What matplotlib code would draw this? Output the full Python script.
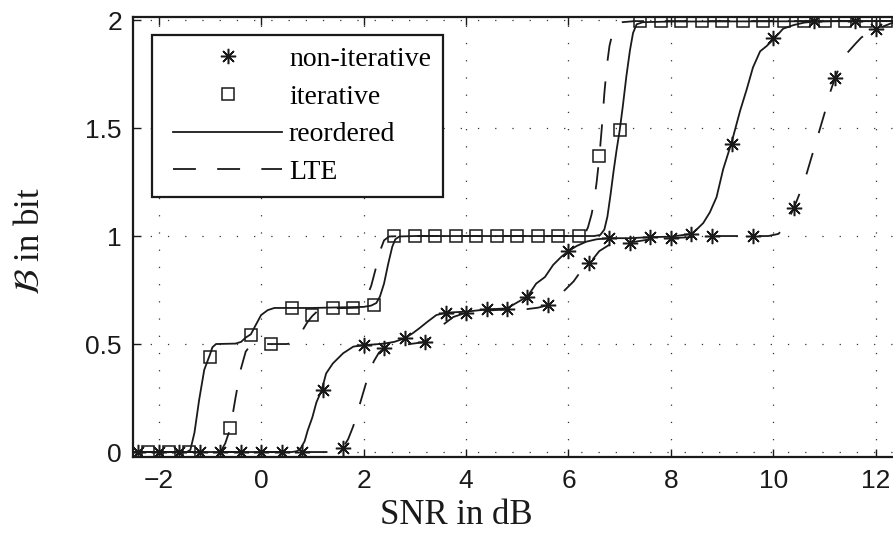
import matplotlib
matplotlib.use("Agg")
import matplotlib.pyplot as plt
from matplotlib.lines import Line2D
from matplotlib.legend_handler import HandlerLine2D

plt.rcParams['lines.scale_dashes'] = False
plt.rcParams['mathtext.fontset'] = 'stix'
plt.rcParams['font.family'] = ['Liberation Sans', 'DejaVu Sans']

# ---------------- data ----------------
# iterative, reordered (solid line, squares)
it_re_x = [-2.5, -1.45, -1.38, -1.3, -1.21, -1.11, -1.0, -0.95, -0.88, -0.5, -0.39, -0.3, -0.2,
           -0.1, 0.0, 0.13, 0.26, 1.0, 2.0, 2.15, 2.25, 2.32, 2.4, 2.48, 2.56, 2.62, 2.7, 3.0,
           6.5, 6.62, 6.7, 6.76, 6.82, 6.88, 6.94, 7.0, 7.06, 7.13, 7.2, 7.26, 7.33, 7.45, 8.0, 12.5]
it_re_y = [0.0, 0.0, 0.01, 0.09, 0.24, 0.38, 0.45, 0.485, 0.5, 0.502, 0.51, 0.53, 0.545,
           0.59, 0.634, 0.657, 0.667, 0.667, 0.672, 0.678, 0.69, 0.72, 0.78, 0.87, 0.95, 0.985, 0.998, 1.0,
           1.0, 1.005, 1.03, 1.09, 1.19, 1.3, 1.4, 1.49, 1.6, 1.74, 1.86, 1.94, 1.98, 1.99, 1.993, 1.995]
it_re_mx = [-1.8, -1.0, -0.2, 0.6, 1.4, 2.2, 3.0, 3.8, 4.6, 5.4, 6.2, 7.0, 7.8, 8.6, 9.4, 10.2, 11.0, 11.8]
it_re_my = [0.0, 0.44, 0.54, 0.667, 0.668, 0.68, 1.0, 1.0, 1.0, 1.0, 1.0, 1.49, 1.995, 1.995, 1.995,
            1.995, 1.995, 1.995]

# iterative, LTE (dashed line, squares)
it_lte_x = [-2.5, -0.85, -0.77, -0.7, -0.6, -0.5, -0.4, -0.3, -0.22, -0.15, 0.0, 0.5, 0.62, 0.7,
            0.8, 0.9, 1.0, 1.1, 1.3, 1.9, 1.97, 2.05, 2.15, 2.25, 2.32, 2.4, 2.5, 2.8, 6.2, 6.3,
            6.38, 6.45, 6.5, 6.55, 6.6, 6.65, 6.7, 6.75, 6.8, 6.86, 6.93, 7.05, 7.3, 12.5]
it_lte_y = [0.0, 0.0, 0.01, 0.04, 0.11, 0.25, 0.38, 0.465, 0.49, 0.497, 0.5, 0.5, 0.505, 0.52,
            0.56, 0.6, 0.63, 0.652, 0.665, 0.668, 0.68, 0.71, 0.77, 0.86, 0.93, 0.98, 0.998, 1.0, 1.0, 1.0,
            1.04, 1.1, 1.16, 1.25, 1.36, 1.5, 1.66, 1.79, 1.88, 1.94, 1.975, 1.99, 1.995, 1.995]
it_lte_mx = [-2.2, -1.4, -0.6, 0.2, 1.0, 1.8, 2.6, 3.4, 4.2, 5.0, 5.8, 6.6, 7.4, 8.2, 9.0, 9.8,
             10.6, 11.4, 12.2]
it_lte_my = [0.0, 0.0, 0.11, 0.5, 0.634, 0.668, 1.0, 1.0, 1.0, 1.0, 1.0, 1.37, 1.995, 1.995, 1.995,
             1.995, 1.995, 1.995, 1.995]

# non-iterative, reordered (solid line, stars)
ni_re_x = [-2.5, 0.6, 0.7, 0.78, 0.85, 0.91, 1.0, 1.08, 1.18, 1.27, 1.4, 1.6, 1.8, 2.0, 2.2, 2.4,
           2.6, 2.8, 2.96, 3.1, 3.23, 3.42, 3.6, 4.0, 4.4, 4.8, 4.98, 5.2, 5.37, 5.54, 5.7, 5.86, 6.0,
           6.16, 6.35, 6.55, 6.8, 7.2, 7.6, 8.0, 8.4, 8.5, 8.63, 8.76, 8.89, 9.02, 9.18, 9.35, 9.48,
           9.6, 9.74, 9.87, 10.0, 10.19, 10.4, 10.6, 10.8, 11.2, 12.5]
ni_re_y = [0.0, 0.0, 0.004, 0.02, 0.05, 0.1, 0.16, 0.23, 0.285, 0.364, 0.41, 0.457, 0.488, 0.495,
           0.498, 0.502, 0.51, 0.526, 0.55, 0.575, 0.6, 0.634, 0.645, 0.65, 0.66, 0.665, 0.69, 0.72,
           0.78, 0.81, 0.866, 0.904, 0.93, 0.954, 0.974, 0.985, 0.99, 0.99, 0.995, 0.997, 1.01, 1.03,
           1.06, 1.11, 1.18, 1.31, 1.43, 1.58, 1.68, 1.78, 1.855, 1.88, 1.91, 1.96, 1.977, 1.988,
           1.993, 1.995, 1.995]
ni_re_mx = [-2.0, -1.2, -0.4, 0.4, 1.2, 2.0, 2.8, 3.6, 4.4, 5.2, 6.0, 6.8, 7.6, 8.4, 9.2, 10.0,
            10.8, 11.6]
ni_re_my = [0.0, 0.0, 0.0, 0.0, 0.285, 0.495, 0.526, 0.645, 0.66, 0.72, 0.93, 0.99, 0.997, 1.01,
            1.426, 1.915, 1.995, 1.995]

# non-iterative, LTE (dashed line, stars)
ni_lte_x = [-2.5, 1.45, 1.55, 1.6, 1.7, 1.8, 1.9, 2.0, 2.1, 2.2, 2.3, 2.4, 2.6, 2.8, 3.0, 3.2,
            3.35, 3.5, 3.75, 4.0, 4.4, 4.8, 5.2, 5.4, 5.6, 5.75, 5.93, 6.1, 6.22, 6.4, 6.5, 6.6, 6.8,
            7.0, 7.2, 7.6, 8.0, 8.8, 9.9, 10.1, 10.2, 10.3, 10.4, 10.5, 10.6, 10.7, 10.8, 10.9, 11.0,
            11.1, 11.2, 11.3, 11.45, 11.6, 11.72, 12.0, 12.3, 12.5]
ni_lte_y = [0.0, 0.0, 0.008, 0.02, 0.06, 0.12, 0.2, 0.28, 0.36, 0.42, 0.46, 0.48, 0.49, 0.497,
            0.503, 0.51, 0.545, 0.58, 0.625, 0.645, 0.655, 0.66, 0.662, 0.668, 0.68, 0.71, 0.75, 0.79,
            0.83, 0.873, 0.9, 0.93, 0.96, 0.967, 0.97, 0.985, 0.99, 1.0, 1.0, 1.01, 1.04, 1.08, 1.13,
            1.19, 1.25, 1.33, 1.41, 1.49, 1.57, 1.66, 1.73, 1.79, 1.85, 1.89, 1.92, 1.957, 1.985, 1.995]
ni_lte_mx = [-2.4, -1.6, -0.8, 0.0, 0.8, 1.6, 2.4, 3.2, 4.0, 4.8, 5.6, 6.4, 7.2, 8.0, 8.8, 9.6,
             10.4, 11.2, 12.0]
ni_lte_my = [0.0, 0.0, 0.0, 0.0, 0.0, 0.02, 0.48, 0.51, 0.645, 0.66, 0.68, 0.873, 0.97, 0.99, 1.0,
             1.0, 1.13, 1.73, 1.957]

legend_labels = ['non-iterative', 'iterative', 'reordered', 'LTE']
x_ticks = [-2, 0, 2, 4, 6, 8, 10, 12]
y_ticks = [0, 0.5, 1, 1.5, 2]
y_ticklabels = ['0', '0.5', '1', '1.5', '2']

# ---------------- styling ----------------
W, H = 893, 540
fig = plt.figure(figsize=(W / 100, H / 100), dpi=100)
ax_left, ax_right, ax_top, ax_bottom = 133, 901.5, 17, 457
ax = fig.add_axes([ax_left / W, (H - ax_bottom) / H, (ax_right - ax_left) / W,
                   (ax_bottom - ax_top) / H])

col = '#1a1a1a'
lw = 1.3
dash = (16, 15)
star = (8, 2, 0)
star_kw = dict(marker=star, ms=11, mew=1.1, mec=col, ls='none')
sq_kw = dict(marker='s', ms=8.4, mew=1.1, mec=col, mfc='none', ls='none')

ax.plot(it_re_x, it_re_y, color=col, lw=lw)
ax.plot(it_lte_x, it_lte_y, color=col, lw=lw, dashes=dash)
ax.plot(ni_re_x, ni_re_y, color=col, lw=lw)
ax.plot(ni_lte_x, ni_lte_y, color=col, lw=lw, dashes=dash)
ax.plot(it_re_mx, it_re_my, **sq_kw)
ax.plot(it_lte_mx, it_lte_my, **sq_kw)
ax.plot(ni_re_mx, ni_re_my, **star_kw)
ax.plot(ni_lte_mx, ni_lte_my, **star_kw)

ax.set_xlim(-2.5, 12.5)
ax.set_ylim(-0.023, 2.014)
ax.set_xticks(x_ticks)
ax.set_xticklabels([str(t).replace('-', '\u2212') for t in x_ticks])
ax.set_yticks(y_ticks)
ax.set_yticklabels(y_ticklabels)
ax.tick_params(direction='in', top=True, right=True, length=6, width=1.0,
               labelsize=19, colors=col)
ax.tick_params(axis='x', pad=9)
ax.tick_params(axis='y', pad=8)
for s in ax.spines.values():
    s.set_linewidth(1.6)
    s.set_color(col)

ax.grid(True, color='#333333', linewidth=0.9, dashes=(0.9, 11.5))

serif = ['Liberation Serif', 'DejaVu Serif']
ax.set_xlabel('SNR in dB', fontsize=25, family=serif, color=col)
ax.xaxis.set_label_coords((456 - ax_left) / (ax_right - ax_left), (ax_bottom - 515) / (ax_bottom - ax_top))
ax.xaxis.label.set_va('center')
ax.set_ylabel(r'$\mathcal{B}$ in bit', fontsize=25, family=serif, color=col)
ax.yaxis.set_label_coords((30 - ax_left) / (ax_right - ax_left), 0.49)
ax.yaxis.label.set_va('center')

handles = [
    Line2D([], [], **star_kw),
    Line2D([], [], **sq_kw),
    Line2D([], [], color=col, lw=lw),
    Line2D([], [], color=col, lw=lw, dashes=(16.5, 15.3)),
]
leg = ax.legend(handles, legend_labels, loc='upper left',
                bbox_to_anchor=((152 - ax_left) / (ax_right - ax_left), (ax_bottom - 35) / (ax_bottom - ax_top)),
                borderaxespad=0, prop={'family': serif, 'size': 20}, handlelength=4.26,
                handletextpad=0.25, labelspacing=0.44, borderpad=0.42, fancybox=False,
                framealpha=1, edgecolor=col,
                handler_map={Line2D: HandlerLine2D(xpad=0.34)})
leg.get_frame().set_linewidth(1.6)

fig.savefig('out.png', dpi=100)
